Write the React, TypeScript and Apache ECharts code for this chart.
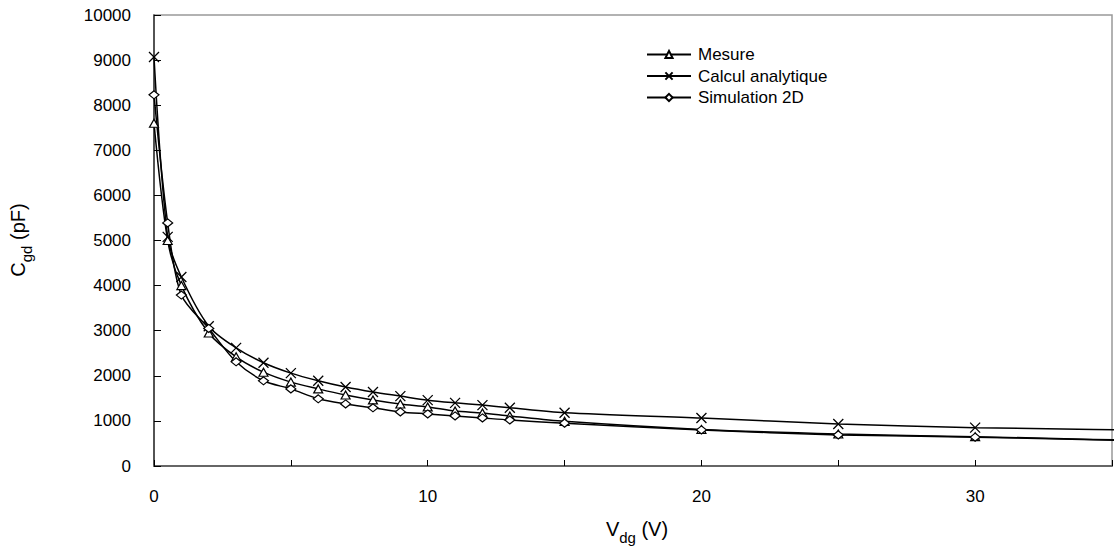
import React, { useEffect, useRef } from "react";
import * as echarts from "echarts";

const vdg = [0, 0.5, 1, 2, 3, 4, 5, 6, 7, 8, 9, 10, 11, 12, 13, 15, 20, 25, 30, 40];
const mesure = [7600, 5000, 4000, 2950, 2420, 2080, 1860, 1710, 1575, 1465, 1375, 1310, 1220, 1175, 1110, 990, 810, 710, 650, 510];
const calcul = [9070, 5080, 4190, 3100, 2620, 2290, 2060, 1890, 1750, 1640, 1550, 1460, 1400, 1350, 1290, 1180, 1064, 931, 850, 760];
const simulation = [8230, 5390, 3790, 3050, 2310, 1890, 1710, 1490, 1375, 1290, 1200, 1155, 1110, 1065, 1020, 950, 800, 690, 640, 500];
const xLabels = [0, 10, 20, 30];

const FONT = "Arial, 'Liberation Sans', sans-serif";
const CROSS = "path://M0,0L10,10M10,0L0,10";

export default function App() {
  const ref = useRef<HTMLDivElement>(null);
  useEffect(() => {
    if (!ref.current) return;
    const chart = echarts.init(ref.current, null, { renderer: "svg" });
    const pair = (ys: number[]) => vdg.map((x, i) => [x, ys[i]]);
    const base = {
      type: "line",
      smooth: 0.3,
      clip: true,
      lineStyle: { color: "#000", width: 1.5 },
    };
    const rich = {
      a: { fontSize: 20, color: "#000", fontFamily: FONT, verticalAlign: "top", lineHeight: 26 },
      b: { fontSize: 15, color: "#000", fontFamily: FONT, verticalAlign: "bottom", lineHeight: 26 },
    };
    chart.setOption({
      animation: false,
      backgroundColor: "#fff",
      textStyle: { fontFamily: FONT },
      grid: {
        left: 154,
        top: 15,
        right: -2,
        bottom: 86,
        show: true,
        borderColor: "#999",
        borderWidth: 1.5,
      },
      legend: {
        orient: "vertical",
        left: 641,
        top: 41,
        itemWidth: 44,
        itemHeight: 9,
        itemGap: 4.5,
        textStyle: { fontSize: 17, color: "#000", fontFamily: FONT, padding: [0, 0, 0, 2] },
        data: ["Mesure", "Calcul analytique", "Simulation 2D"],
      },
      graphic: [
        {
          type: "text",
          x: 637,
          y: 532,
          style: { text: "{a|V}{b|dg}{a| (V)}", rich, align: "center", verticalAlign: "middle" },
        },
        {
          type: "text",
          x: 21,
          y: 240,
          rotation: Math.PI / 2,
          style: { text: "{a|C}{b|gd}{a| (pF)}", rich, align: "center", verticalAlign: "middle" },
        },
      ],
      xAxis: {
        type: "value",
        min: 0,
        max: 35,
        interval: 5,
        axisLine: { lineStyle: { color: "#666", width: 2 } },
        axisTick: { inside: true, length: 6, lineStyle: { color: "#000" } },
        splitLine: { show: false },
        axisLabel: {
          fontSize: 17,
          color: "#000",
          fontFamily: FONT,
          margin: 22,
          formatter: (v: number) => (xLabels.includes(v) ? String(v) : ""),
        },
      },
      yAxis: {
        type: "value",
        min: 0,
        max: 10000,
        interval: 1000,
        axisLine: { show: true, lineStyle: { color: "#333", width: 1.5 } },
        axisTick: { show: true, inside: true, length: 7, lineStyle: { color: "#000" } },
        splitLine: { show: false },
        axisLabel: {
          fontSize: 17,
          color: "#000",
          fontFamily: FONT,
          margin: 23,
          formatter: (v: number) => String(v),
        },
      },
      series: [
        {
          ...base,
          name: "Mesure",
          data: pair(mesure),
          symbol: "triangle",
          symbolSize: [9, 8],
          itemStyle: { color: "#fff", borderColor: "#000", borderWidth: 1.2 },
        },
        {
          ...base,
          name: "Calcul analytique",
          data: pair(calcul),
          symbol: CROSS,
          symbolSize: 10,
          itemStyle: { color: "none", borderColor: "#000", borderWidth: 1.3 },
        },
        {
          ...base,
          name: "Simulation 2D",
          data: pair(simulation),
          symbol: "diamond",
          symbolSize: [10, 8],
          itemStyle: { color: "#fff", borderColor: "#000", borderWidth: 1.2 },
        },
      ],
    });
    return () => chart.dispose();
  }, []);
  return (
    <div
      ref={ref}
      style={{ position: "fixed", left: 0, top: 0, width: 1115, height: 552, background: "#fff" }}
    />
  );
}
